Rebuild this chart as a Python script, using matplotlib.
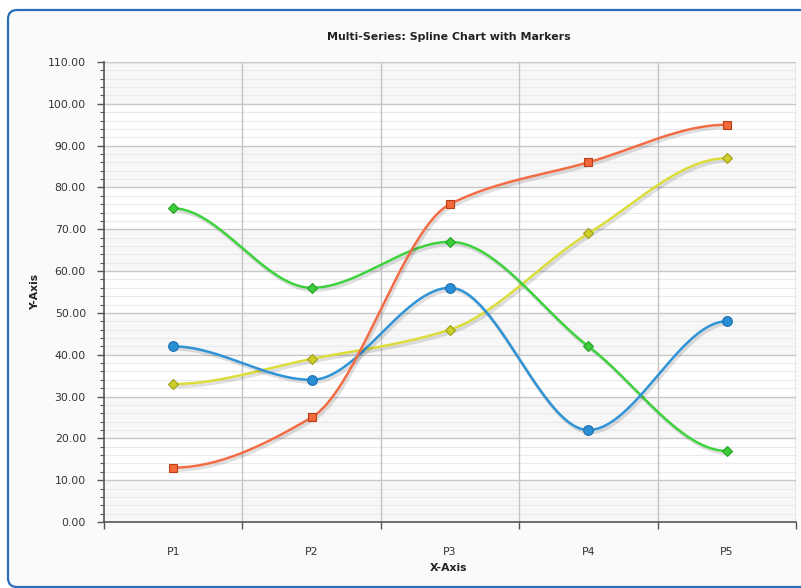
import numpy as np
import matplotlib
matplotlib.use("Agg")
import matplotlib.pyplot as plt
import matplotlib.patheffects as pe
from matplotlib.patches import FancyBboxPatch, Rectangle
from matplotlib.transforms import IdentityTransform

categories = ["P1", "P2", "P3", "P4", "P5"]
series_a = [42, 34, 56, 22, 48]   # blue circles
series_b = [13, 25, 76, 86, 95]   # orange squares
series_c = [75, 56, 67, 42, 17]   # green diamonds
series_d = [33, 39, 46, 69, 87]   # yellow diamonds
y_ticks = list(range(0, 111, 10))

title = "Multi-Series: Spline Chart with Markers"
x_title = "X-Axis"
y_title = "Y-Axis"

W, H = 801, 588
fig = plt.figure(figsize=(W / 100, H / 100), dpi=100)
fig.patch.set_facecolor("white")

# frame
frame = FancyBboxPatch((8, 1), 820, 577, boxstyle="round,pad=0,rounding_size=9",
                       transform=IdentityTransform(), facecolor="#fafafa",
                       edgecolor="#2a6ebb", linewidth=1.6, zorder=0)
fig.add_artist(frame)

L, R, T, B = 104, 796, 62, 522
ax = fig.add_axes([L / W, 1 - B / H, (R - L) / W, (B - T) / H])
ax.set_facecolor("white")
n = len(categories)
ax.set_xlim(-0.5, n - 0.5)
ax.set_ylim(0, 110)

# alternating bands
for i, y0 in enumerate(y_ticks[:-1]):
    if i % 2 == 0:
        ax.add_patch(Rectangle((-0.5, y0), n, 10, facecolor="#f7f7f7",
                               edgecolor="none", zorder=0))
# minor grid
for y in np.arange(0, 110.1, 2):
    if y % 10 != 0:
        ax.axhline(y, color="#eaeaea", lw=0.8, zorder=0.5)
for y in y_ticks[1:]:
    ax.axhline(y, color="#c8c8c8", lw=1.0, zorder=0.6)
for k in range(1, n + 1):
    ax.axvline(k - 0.5, color="#c4c4c4", lw=1.0, zorder=0.6)


def hermite(vals, steps=60):
    y = np.asarray(vals, float)
    m = len(y)
    d = np.diff(y)
    s = np.zeros(m)
    for i in range(1, m - 1):
        if d[i - 1] * d[i] > 0:
            s[i] = 2 * d[i - 1] * d[i] / (d[i - 1] + d[i])
    xs, ys = [], []
    for i in range(m - 1):
        t = np.linspace(0, 1, steps)
        h00 = 2 * t**3 - 3 * t**2 + 1
        h10 = t**3 - 2 * t**2 + t
        h01 = -2 * t**3 + 3 * t**2
        h11 = t**3 - t**2
        xs.append(i + t)
        ys.append(h00 * y[i] + h10 * s[i] + h01 * y[i + 1] + h11 * s[i + 1])
    return np.concatenate(xs), np.concatenate(ys)


shadow = [pe.SimpleLineShadow(offset=(1.2, -1.8), shadow_color="#000000", alpha=0.12, linewidth=2.5),
          pe.Normal()]

specs = [
    (series_d, "#dcdc3a", "D", "#cfcf2c", "#9e9e18", 5.0),
    (series_c, "#3fd23f", "D", "#3ccc3c", "#25a025", 5.0),
    (series_a, "#2f93d6", "o", "#2a8ed4", "#1d6fae", 7.0),
    (series_b, "#f26d45", "s", "#f2693a", "#b83f1a", 6.0),
]
xi = np.arange(n)
for vals, lc, mk, mf, me, ms in specs:
    xs, ys = hermite(vals)
    ax.plot(xs, ys, color=lc, lw=1.8, zorder=3, path_effects=shadow, solid_capstyle="round")
    ax.plot(xi, vals, linestyle="none", marker=mk, markersize=ms, markerfacecolor=mf,
            markeredgecolor=me, markeredgewidth=0.8, zorder=4)

# axes
for sp in ["top", "right"]:
    ax.spines[sp].set_visible(False)
ax.spines["left"].set_color("#555555")
ax.spines["bottom"].set_color("#555555")
ax.spines["left"].set_linewidth(1.2)
ax.spines["bottom"].set_linewidth(1.2)
ax.axhline(110, color="#c8c8c8", lw=1.0, zorder=0.6)
ax.axvline(n - 0.5, color="#c4c4c4", lw=1.0, zorder=0.6)

ax.set_yticks(y_ticks)
ax.set_yticklabels([f"{v:.2f}" for v in y_ticks])
ax.set_yticks(np.arange(0, 110.1, 2), minor=True)
ax.tick_params(axis="y", which="major", length=5, width=1, color="#555555",
               labelsize=7.8, labelcolor="#333333", pad=8)
ax.tick_params(axis="y", which="minor", length=3, width=0.8, color="#555555")

ax.set_xticks(np.arange(-0.5, n, 1.0))
ax.set_xticklabels([])
ax.set_xticks(xi, minor=True)
ax.set_xticklabels(categories, minor=True)
ax.tick_params(axis="x", which="major", length=5, width=1, color="#555555", direction="out")
ax.tick_params(axis="x", which="minor", length=0, labelsize=7.8, labelcolor="#333333", pad=18)

fig.text(449 / W, 1 - 37 / H, title, ha="center", va="center", fontsize=7.9,
         fontweight="bold", color="#222222")
fig.text(449 / W, 1 - 568 / H, x_title, ha="center", va="center", fontsize=7.8,
         fontweight="bold", color="#222222")
fig.text(35 / W, 1 - 292 / H, y_title, ha="center", va="center", fontsize=7.8,
         fontweight="bold", color="#222222", rotation=90)

fig.savefig("out.png", dpi=100, facecolor=fig.get_facecolor())
